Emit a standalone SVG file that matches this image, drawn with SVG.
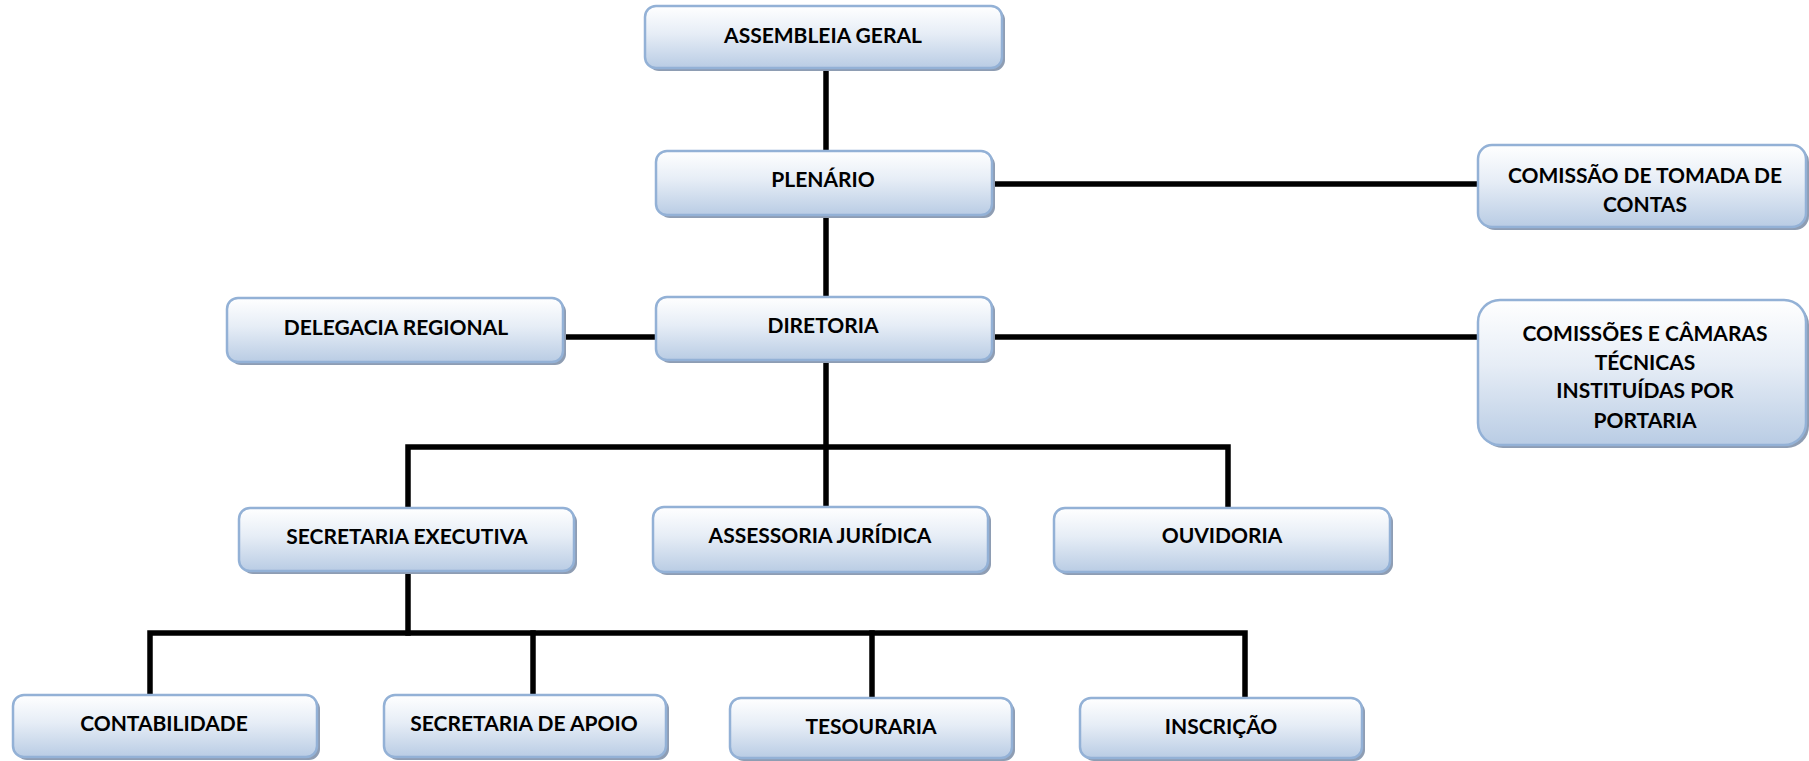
<svg xmlns="http://www.w3.org/2000/svg" width="1809" height="761" viewBox="0 0 1809 761">
<defs>
<linearGradient id="g" x1="0" y1="0" x2="0" y2="1">
<stop offset="0" stop-color="#ffffff"/>
<stop offset="0.45" stop-color="#e6edf6"/>
<stop offset="1" stop-color="#b9cce4"/>
</linearGradient>
</defs>
<style>
.sh{fill:#8e9db3}
.bx{fill:url(#g);stroke:#93b1d6;stroke-width:2.5}
.t{font-family:Lato,"Liberation Sans",sans-serif;font-weight:bold;font-size:21px;fill:#000;text-anchor:middle}
.c{stroke:#000;stroke-width:5.5;fill:none;stroke-linecap:square}
</style>
<rect width="1809" height="761" fill="#fff"/>
<g id="connectors">
<line class="c" x1="826" y1="70" x2="826" y2="150"/>
<line class="c" x1="826" y1="216" x2="826" y2="296"/>
<line class="c" x1="826" y1="362" x2="826" y2="506"/>
<line class="c" x1="993" y1="184" x2="1477" y2="184"/>
<line class="c" x1="993" y1="337" x2="1477" y2="337"/>
<line class="c" x1="564" y1="337" x2="655" y2="337"/>
<polyline class="c" points="408,506 408,447 1228,447 1228,506"/>
<line class="c" x1="408" y1="573" x2="408" y2="633"/>
<polyline class="c" points="150,694 150,633 1245,633 1245,696"/>
<line class="c" x1="533" y1="633" x2="533" y2="694"/>
<line class="c" x1="872" y1="633" x2="872" y2="696"/>
</g>
<g id="assembleia">
<rect class="sh" x="648" y="9" width="357" height="62" rx="11"/>
<rect class="bx" x="645" y="6" width="357" height="62" rx="11"/>
<text class="t" x="823" y="43">ASSEMBLEIA GERAL</text>
</g>
<g id="plenario">
<rect class="sh" x="659" y="154" width="336" height="64" rx="11"/>
<rect class="bx" x="656" y="151" width="336" height="64" rx="11"/>
<text class="t" x="823" y="187">PLENÁRIO</text>
</g>
<g id="comissao-tomada">
<rect class="sh" x="1481" y="148" width="328" height="82" rx="14"/>
<rect class="bx" x="1478" y="145" width="328" height="82" rx="14"/>
<text class="t" x="1645" y="183">COMISSÃO DE TOMADA DE</text>
<text class="t" x="1645" y="212">CONTAS</text>
</g>
<g id="delegacia">
<rect class="sh" x="230" y="301" width="336" height="64" rx="11"/>
<rect class="bx" x="227" y="298" width="336" height="64" rx="11"/>
<text class="t" x="396" y="335">DELEGACIA REGIONAL</text>
</g>
<g id="diretoria">
<rect class="sh" x="659" y="300" width="336" height="63" rx="11"/>
<rect class="bx" x="656" y="297" width="336" height="63" rx="11"/>
<text class="t" x="823" y="333">DIRETORIA</text>
</g>
<g id="comissoes-camaras">
<rect class="sh" x="1481" y="303" width="328" height="145" rx="22"/>
<rect class="bx" x="1478" y="300" width="328" height="145" rx="22"/>
<text class="t" x="1645" y="341">COMISSÕES E CÂMARAS</text>
<text class="t" x="1645" y="370">TÉCNICAS</text>
<text class="t" x="1645" y="398">INSTITUÍDAS POR</text>
<text class="t" x="1645" y="428">PORTARIA</text>
</g>
<g id="secretaria-executiva">
<rect class="sh" x="242" y="511" width="335" height="63" rx="11"/>
<rect class="bx" x="239" y="508" width="335" height="63" rx="11"/>
<text class="t" x="407" y="544">SECRETARIA EXECUTIVA</text>
</g>
<g id="assessoria">
<rect class="sh" x="656" y="510" width="335" height="65" rx="11"/>
<rect class="bx" x="653" y="507" width="335" height="65" rx="11"/>
<text class="t" x="820" y="543">ASSESSORIA JURÍDICA</text>
</g>
<g id="ouvidoria">
<rect class="sh" x="1057" y="511" width="336" height="64" rx="11"/>
<rect class="bx" x="1054" y="508" width="336" height="64" rx="11"/>
<text class="t" x="1222" y="543">OUVIDORIA</text>
</g>
<g id="contabilidade">
<rect class="sh" x="16" y="698" width="304" height="62" rx="11"/>
<rect class="bx" x="13" y="695" width="304" height="62" rx="11"/>
<text class="t" x="164" y="731">CONTABILIDADE</text>
</g>
<g id="secretaria-apoio">
<rect class="sh" x="387" y="698" width="282" height="62" rx="11"/>
<rect class="bx" x="384" y="695" width="282" height="62" rx="11"/>
<text class="t" x="524" y="731">SECRETARIA DE APOIO</text>
</g>
<g id="tesouraria">
<rect class="sh" x="733" y="701" width="282" height="60" rx="11"/>
<rect class="bx" x="730" y="698" width="282" height="60" rx="11"/>
<text class="t" x="871" y="734">TESOURARIA</text>
</g>
<g id="inscricao">
<rect class="sh" x="1083" y="701" width="282" height="60" rx="11"/>
<rect class="bx" x="1080" y="698" width="282" height="60" rx="11"/>
<text class="t" x="1221" y="734">INSCRIÇÃO</text>
</g>
</svg>
